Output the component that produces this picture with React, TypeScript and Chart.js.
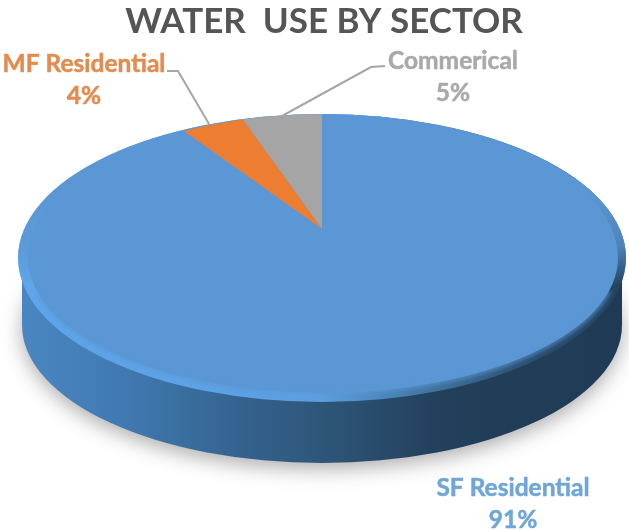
import React, { useEffect, useRef } from "react";
import { Chart, registerables } from "chart.js";

Chart.register(...registerables);

const titleText = "WATER  USE BY SECTOR";
const categories = ["SF Residential", "MF Residential", "Commerical"];
const shares = [91, 4, 5];
const sliceColors = ["#5b97d5", "#ed7d31", "#a5a5a5"];
const labelColors = ["#6fa6d8", "#e48b50", "#a9a9a9"];

const FONT = "Lato, 'Open Sans', sans-serif";
const apex = { x: 322, y: 229 };
const squash = { x: 1.5, y: 0.675 };
const face = { x: 323, y: 254, rx: 295, ry: 139 };
const rim = { x: 322, y: 258, rx: 304, ry: 144 };
const base = { x: 322, y: 325, rx: 300, ry: 138 };
const labelAnchors = [
  { x: 513, y: 487 },
  { x: 84, y: 63 },
  { x: 453, y: 60 },
];
const leaders = [
  null,
  [[167, 71], [178, 71], [209, 124]],
  [[385, 66], [371, 67], [282, 116]],
];

function ellipse(ctx: CanvasRenderingContext2D, e: { x: number; y: number; rx: number; ry: number }) {
  ctx.beginPath();
  ctx.ellipse(e.x, e.y, e.rx, e.ry, 0, 0, Math.PI * 2);
}

const pie3d = {
  id: "pie3d",
  beforeDatasetsDraw(chart: any) {
    const ctx: CanvasRenderingContext2D = chart.ctx;
    const arc = chart.getDatasetMeta(0).data[0];
    const { x, y, outerRadius } = arc.getProps(["x", "y", "outerRadius"], true);

    // drop shadow and wall of the disc
    ctx.save();
    const wall = ctx.createLinearGradient(18, 0, 626, 0);
    wall.addColorStop(0, "#4a87c2");
    wall.addColorStop(0.18, "#4079b0");
    wall.addColorStop(0.38, "#33618c");
    wall.addColorStop(0.5, "#2e5679");
    wall.addColorStop(0.7, "#223f5b");
    wall.addColorStop(1, "#1f3a54");
    ctx.fillStyle = wall;
    ctx.shadowColor = "rgba(0,0,0,0.32)";
    ctx.shadowBlur = 20;
    ctx.shadowOffsetY = 6;
    ellipse(ctx, base);
    ctx.fill();
    ctx.shadowColor = "transparent";
    ctx.fillRect(base.x - base.rx, rim.y, base.rx * 2, base.y - rim.y);
    ctx.restore();

    // bevelled rim
    ctx.save();
    const bevel = ctx.createLinearGradient(18, 0, 626, 0);
    bevel.addColorStop(0, "#5ea6ea");
    bevel.addColorStop(0.5, "#5c9fe0");
    bevel.addColorStop(0.68, "#41749f");
    bevel.addColorStop(0.85, "#2a4e70");
    bevel.addColorStop(1, "#24435f");
    ctx.fillStyle = bevel;
    ellipse(ctx, rim);
    ctx.fill();
    // the rim melts into the face towards the back of the disc
    const melt = ctx.createLinearGradient(0, 190, 0, 285);
    melt.addColorStop(0, sliceColors[0]);
    melt.addColorStop(0.6, "rgba(91,151,213,0.75)");
    melt.addColorStop(1, "rgba(91,151,213,0)");
    ctx.fillStyle = melt;
    ellipse(ctx, rim);
    ctx.fill();
    ctx.restore();

    // the library's arcs, tilted about the apex and cut by the face
    ctx.save();
    ctx.beginPath();
    ctx.ellipse(face.x, rim.y, face.rx, rim.ry, 0, Math.PI, Math.PI * 2);
    ctx.ellipse(face.x, rim.y, face.rx, face.ry + face.y - rim.y, 0, 0, Math.PI);
    ctx.closePath();
    ctx.clip();
    const sx = (squash.x * 265) / outerRadius;
    const sy = (squash.y * 265) / outerRadius;
    ctx.translate(apex.x, apex.y);
    ctx.scale(sx, sy);
    ctx.translate(-x, -y);
  },
  afterDatasetsDraw(chart: any) {
    const ctx: CanvasRenderingContext2D = chart.ctx;
    ctx.restore();

    // soft front edge of the face
    ctx.save();
    ctx.filter = "blur(2px)";
    ctx.strokeStyle = sliceColors[0];
    ctx.lineWidth = 3;
    ctx.beginPath();
    ctx.ellipse(face.x, rim.y, face.rx, face.ry + face.y - rim.y, 0, 0.25, Math.PI - 0.25);
    ctx.stroke();
    ctx.restore();

    ctx.save();
    ctx.textAlign = "center";
    ctx.textBaseline = "middle";
    ctx.font = `700 24.5px ${FONT}`;
    ctx.lineWidth = 0.5;
    categories.forEach((name, i) => {
      const a = labelAnchors[i];
      ctx.fillStyle = labelColors[i];
      ctx.strokeStyle = labelColors[i];
      ctx.fillText(name, a.x, a.y + 1);
      ctx.strokeText(name, a.x, a.y + 1);
      ctx.fillText(`${shares[i]}%`, a.x, a.y + 33);
      ctx.strokeText(`${shares[i]}%`, a.x, a.y + 33);
      const l = leaders[i];
      if (l) {
        ctx.strokeStyle = "#a6a6a6";
        ctx.lineWidth = 2;
        ctx.beginPath();
        l.forEach(([px, py], k) => (k ? ctx.lineTo(px, py) : ctx.moveTo(px, py)));
        ctx.stroke();
        ctx.lineWidth = 0.5;
      }
    });
    ctx.restore();
  },
};

export default function App() {
  const ref = useRef<HTMLCanvasElement>(null);
  useEffect(() => {
    const chart = new Chart(ref.current as HTMLCanvasElement, {
      type: "pie",
      data: {
        labels: categories,
        datasets: [
          {
            data: shares,
            backgroundColor: sliceColors,
            borderWidth: 0,
            clip: false,
          } as any,
        ],
      },
      options: {
        responsive: false,
        animation: false,
        devicePixelRatio: 1,
        layout: { padding: { left: 19 } },
        plugins: {
          legend: { display: false },
          tooltip: { enabled: false },
          title: {
            display: true,
            text: titleText,
            color: "#555555",
            fullSize: false,
            font: { family: FONT, size: 35, weight: "bold" },
            padding: { top: 1, bottom: 0 },
          },
        },
      },
      plugins: [pie3d],
    } as any);
    return () => chart.destroy();
  }, []);
  return (
    <canvas
      ref={ref}
      width={629}
      height={531}
      style={{ position: "fixed", left: 0, top: 0, display: "block", background: "#fff", filter: "blur(0.4px)" }}
    />
  );
}
